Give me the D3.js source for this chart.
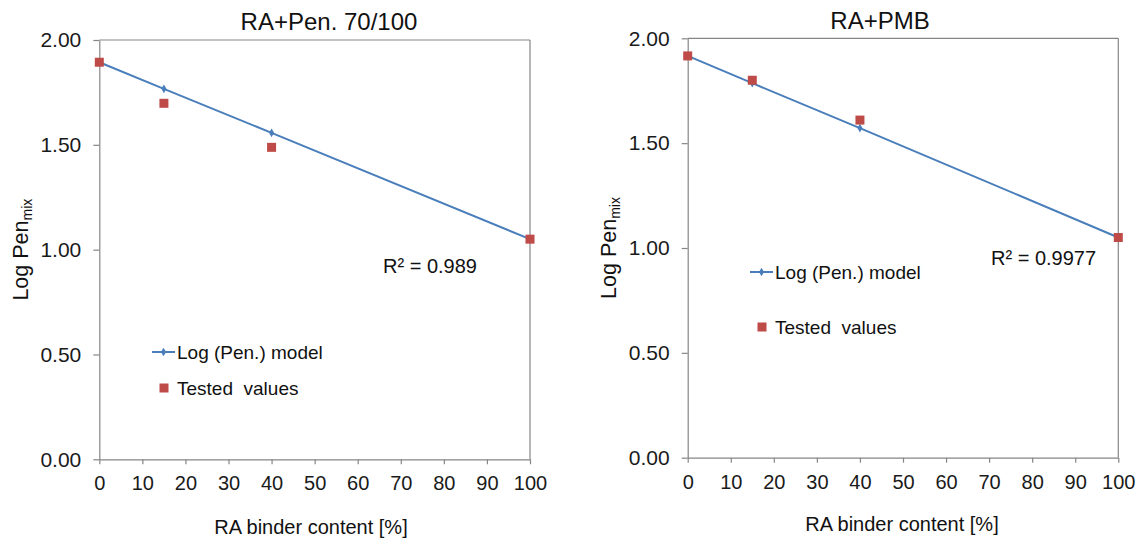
<!DOCTYPE html>
<html>
<head>
<meta charset="utf-8">
<script src="https://cdn.jsdelivr.net/npm/d3@7"></script>
<style>
  html, body { margin: 0; padding: 0; background: #fff; }
  svg { display: block; font-family: "Liberation Sans", Arial, sans-serif; }
</style>
</head>
<body>
<svg id="chart" width="1140" height="543"></svg>
<script>
// ---- data ----
const xValues = [0, 15, 40, 100];
const modelPen70 = [1.894, 1.767, 1.557, 1.050];
const testedPen70 = [1.894, 1.698, 1.488, 1.050];
const modelPMB = [1.916, 1.786, 1.572, 1.050];
const testedPMB = [1.916, 1.800, 1.610, 1.050];
const xTicks = [0, 10, 20, 30, 40, 50, 60, 70, 80, 90, 100];
const yTicks = [0, 0.5, 1.0, 1.5, 2.0];
const titles = ["RA+Pen. 70/100", "RA+PMB"];
const r2Labels = ["R² = 0.989", "R² = 0.9977"];
const legendLabels = ["Log (Pen.) model", "Tested  values"];
const xAxisTitle = "RA binder content [%]";

const panels = [
  { x0: 99.3, x1: 530, y0: 40, y1: 459.3, model: modelPen70, tested: testedPen70,
    title: titles[0], titleX: 329, titleY: 30,
    r2: r2Labels[0], r2X: 383, r2Y: 273,
    legLineY: 352, legLineX: 152, legSqY: 388, legSqX: 164, legTextX: 177,
    yTitleX: 28, xTitleX: 311, xTitleY: 534 },
  { x0: 687.7, x1: 1118.3, y0: 38.3, y1: 457.7, model: modelPMB, tested: testedPMB,
    title: titles[1], titleX: 880, titleY: 28.5,
    r2: r2Labels[1], r2X: 991, r2Y: 265,
    legLineY: 272, legLineX: 750, legSqY: 327, legSqX: 762, legTextX: 775,
    yTitleX: 616, xTitleX: 902, xTitleY: 531 }
];

const svg = d3.select("#chart");
const grey = "#868686";
const blue = "#4a7ebb";
const red = "#be4b48";

panels.forEach(p => {
  const x = d3.scaleLinear().domain([0, 100]).range([p.x0, p.x1]);
  const y = d3.scaleLinear().domain([0, 2]).range([p.y1, p.y0]);
  const g = svg.append("g");

  // frame top & right
  g.append("line").attr("x1", p.x0).attr("x2", p.x1).attr("y1", p.y0).attr("y2", p.y0)
    .attr("stroke", grey).attr("stroke-width", 1.2);
  g.append("line").attr("x1", p.x1).attr("x2", p.x1).attr("y1", p.y0).attr("y2", p.y1)
    .attr("stroke", grey).attr("stroke-width", 1.2);

  // axes
  const xAxis = g.append("g").attr("transform", `translate(0,${p.y1})`)
    .call(d3.axisBottom(x).tickValues(xTicks).tickSize(5).tickSizeOuter(0).tickPadding(12)
      .tickFormat(d3.format("d")));
  const yAxis = g.append("g").attr("transform", `translate(${p.x0},0)`)
    .call(d3.axisLeft(y).tickValues(yTicks).tickSize(6).tickSizeOuter(0).tickPadding(12)
      .tickFormat(d3.format(".2f")));
  [xAxis, yAxis].forEach(a => {
    a.select(".domain").attr("stroke", grey).attr("stroke-width", 1.2);
    a.selectAll(".tick line").attr("stroke", grey).attr("stroke-width", 1.2);
    a.selectAll(".tick text").attr("fill", "#1a1a1a").style("font-size", "20px")
      .style("font-family", "Liberation Sans, Arial, sans-serif");
  });
  yAxis.selectAll(".tick text").style("font-size", "21px");

  // model line
  const line = d3.line().x((d, i) => x(xValues[i])).y(d => y(d));
  g.append("path").datum(p.model).attr("d", line)
    .attr("fill", "none").attr("stroke", blue).attr("stroke-width", 2);
  const diamond = d3.symbol().type(d3.symbolDiamond).size(22);
  g.selectAll(".dm").data(p.model).enter().append("path")
    .attr("d", diamond)
    .attr("transform", (d, i) => `translate(${x(xValues[i])},${y(d)})`)
    .attr("fill", blue);

  // tested squares
  const sq = 9;
  g.selectAll(".sq").data(p.tested).enter().append("rect")
    .attr("x", (d, i) => x(xValues[i]) - sq / 2)
    .attr("y", d => y(d) - sq / 2)
    .attr("width", sq).attr("height", sq)
    .attr("fill", red);

  // title
  g.append("text").attr("x", p.titleX).attr("y", p.titleY).attr("text-anchor", "middle")
    .style("font-size", "24px").attr("fill", "#111").text(p.title);

  // R2
  g.append("text").attr("x", p.r2X).attr("y", p.r2Y)
    .style("font-size", "20px").attr("fill", "#111").text(p.r2);

  // legend
  g.append("line").attr("x1", p.legLineX).attr("x2", p.legLineX + 23)
    .attr("y1", p.legLineY).attr("y2", p.legLineY).attr("stroke", blue).attr("stroke-width", 2);
  g.append("path").attr("d", diamond)
    .attr("transform", `translate(${p.legLineX + 11.5},${p.legLineY})`).attr("fill", blue);
  g.append("text").attr("x", p.legTextX).attr("y", p.legLineY + 6.5)
    .style("font-size", "19px").attr("fill", "#111").text(legendLabels[0]);
  g.append("rect").attr("x", p.legSqX - 4.5).attr("y", p.legSqY - 4.5)
    .attr("width", 9).attr("height", 9).attr("fill", red);
  g.append("text").attr("x", p.legTextX).attr("y", p.legSqY + 6.5)
    .style("font-size", "19px").attr("fill", "#111").attr("xml:space", "preserve")
    .style("white-space", "pre").text(legendLabels[1]);

  // x axis title
  g.append("text").attr("x", p.xTitleX).attr("y", p.xTitleY).attr("text-anchor", "middle")
    .style("font-size", "20px").attr("fill", "#111").text(xAxisTitle);

  // y axis title
  const yc = (p.y0 + p.y1) / 2;
  const yt = g.append("text")
    .attr("transform", `translate(${p.yTitleX},${yc}) rotate(-90)`)
    .attr("text-anchor", "middle").style("font-size", "21.5px").attr("fill", "#111");
  yt.append("tspan").text("Log Pen");
  yt.append("tspan").attr("dy", 4).style("font-size", "14px").text("mix");
});
</script>
</body>
</html>
